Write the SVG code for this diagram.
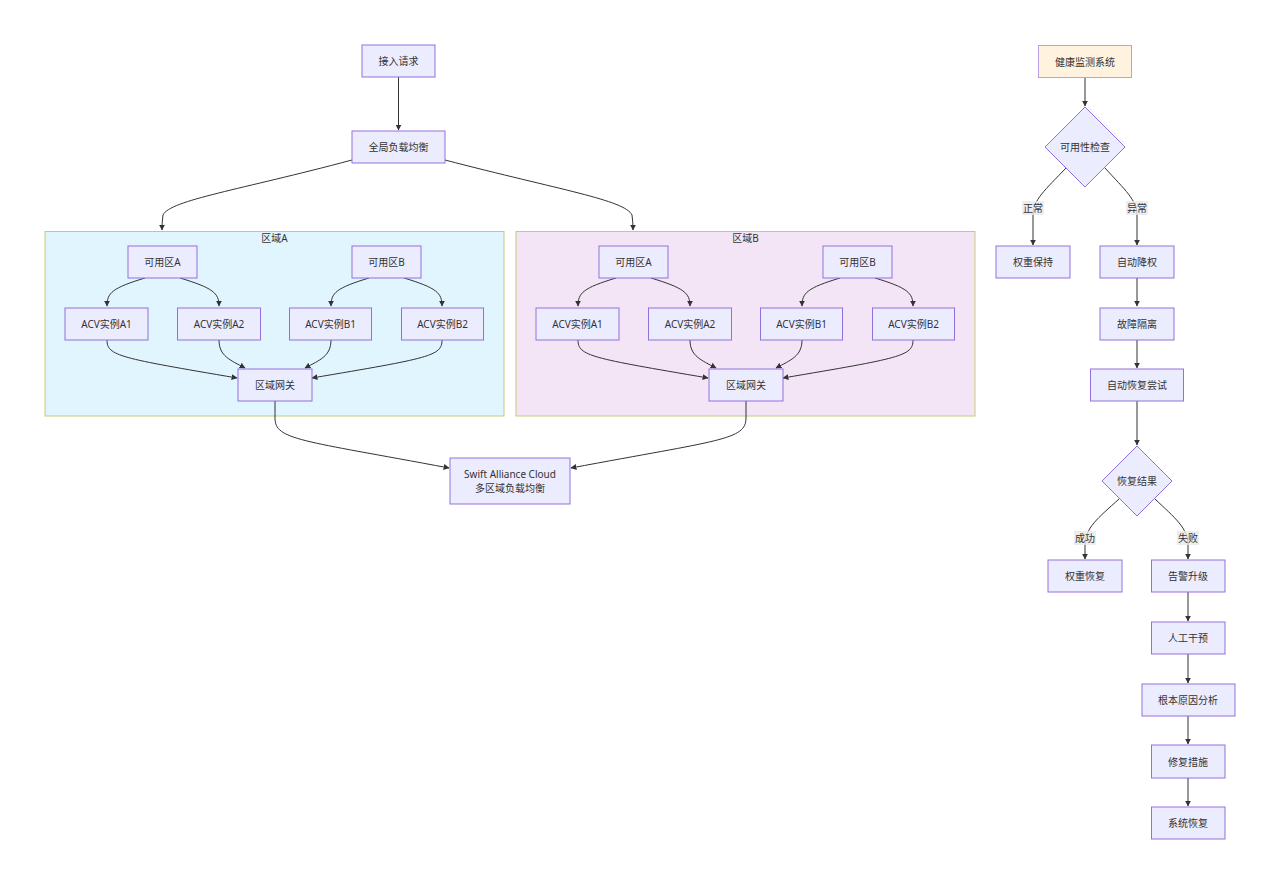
<svg xmlns="http://www.w3.org/2000/svg" width="1280" height="884" viewBox="0 0 1280 884">
<style>
text{font-family:"Noto Sans","Noto Sans CJK SC",sans-serif;font-size:10px;fill:#333;text-anchor:middle;dominant-baseline:central}
.n{fill:#ECECFF;stroke:#9370DB;stroke-width:1}
.e{fill:none;stroke:#333;stroke-width:1;marker-end:url(#a)}
.lb{fill:#e8e8e8;opacity:0.8}
</style>
<defs>
<marker id="a" viewBox="0 0 10 10" refX="9" refY="5" markerWidth="6" markerHeight="6" orient="auto-start-reverse" markerUnits="userSpaceOnUse">
<path d="M0,0L10,5L0,10z" fill="#333"/>
</marker>
</defs>
<rect width="1280" height="884" fill="#fff"/>
<g id="regionA">
<rect x="45" y="231.5" width="459" height="184.5" fill="#E1F5FE" stroke="#C8C87A" stroke-width="1"/>
<text x="274.5" y="238">区域A</text>
</g>
<g id="regionB">
<rect x="516" y="231.5" width="459" height="184.5" fill="#F3E5F5" stroke="#C8C87A" stroke-width="1"/>
<text x="745.5" y="238">区域B</text>
</g>
<g id="connectors">
<path class="e" d="M398.5,77 L398.5,130"/>
<path class="e" d="M352,160 C240,190 170,200 163,215 Q162,222 162,230"/>
<path class="e" d="M445,160 C560,190 625,200 632,215 Q633,222 633,230"/>
<path class="e" d="M145,278 C112,288 107,293 107,306"/>
<path class="e" d="M180,278 C213,288 219,293 219,306"/>
<path class="e" d="M369,278 C336,288 331,293 331,306"/>
<path class="e" d="M404,278 C437,288 442,293 442,306"/>
<path class="e" d="M107,340 C107,356 120,358 237,378"/>
<path class="e" d="M219,340 C219,356 230,360 245,368"/>
<path class="e" d="M331,340 C331,356 320,360 305,368"/>
<path class="e" d="M442,340 C442,356 430,358 312,378"/>
<path class="e" d="M616,278 C583,288 578,293 578,306"/>
<path class="e" d="M651,278 C684,288 690,293 690,306"/>
<path class="e" d="M840,278 C807,288 802,293 802,306"/>
<path class="e" d="M875,278 C908,288 913,293 913,306"/>
<path class="e" d="M578,340 C578,356 591,358 708,378"/>
<path class="e" d="M690,340 C690,356 701,360 716,368"/>
<path class="e" d="M802,340 C802,356 791,360 776,368"/>
<path class="e" d="M913,340 C913,356 901,358 783,378"/>
<path class="e" d="M275,401 L275,418 C275,440 300,440 449,468"/>
<path class="e" d="M746,401 L746,418 C746,440 720,440 571,468"/>
<path class="e" d="M1085,77 L1085,106"/>
<path class="e" d="M1066,168 C1045,190 1033,200 1033,215 L1033,245"/>
<path class="e" d="M1105,168 C1125,190 1137,200 1137,215 L1137,245"/>
<path class="e" d="M1137,278 L1137,306"/>
<path class="e" d="M1137,340 L1137,368"/>
<path class="e" d="M1137,401 L1137,445"/>
<path class="e" d="M1119,499 C1098,518 1085,528 1085,545 L1085,559"/>
<path class="e" d="M1155,499 C1175,518 1188,528 1188,545 L1188,559"/>
<path class="e" d="M1188,592 L1188,621"/>
<path class="e" d="M1188,654 L1188,683"/>
<path class="e" d="M1188,716 L1188,744"/>
<path class="e" d="M1188,778 L1188,806"/>
<rect class="lb" x="1022" y="201" width="22" height="14"/><text x="1033" y="208">正常</text>
<rect class="lb" x="1126" y="201" width="22" height="14"/><text x="1137" y="208">异常</text>
<rect class="lb" x="1074" y="531" width="22" height="14"/><text x="1085" y="538">成功</text>
<rect class="lb" x="1177" y="531" width="22" height="14"/><text x="1188" y="538">失败</text>
</g>
<g id="n_req"><rect class="n" x="362" y="45" width="73" height="32"/><text x="398.5" y="61">接入请求</text></g>
<g id="n_glb"><rect class="n" x="352" y="131" width="93" height="32"/><text x="398.5" y="147">全局负载均衡</text></g>
<g id="A_zoneA"><rect class="n" x="128" y="246" width="69" height="32"/><text x="162.5" y="262">可用区A</text></g>
<g id="A_zoneB"><rect class="n" x="352" y="246" width="69" height="32"/><text x="386.5" y="262">可用区B</text></g>
<g id="A_a1"><rect class="n" x="65" y="308" width="83" height="32"/><text x="106.5" y="324">ACV实例A1</text></g>
<g id="A_a2"><rect class="n" x="177.5" y="308" width="83" height="32"/><text x="219" y="324">ACV实例A2</text></g>
<g id="A_b1"><rect class="n" x="289.5" y="308" width="82" height="32"/><text x="330.5" y="324">ACV实例B1</text></g>
<g id="A_b2"><rect class="n" x="401.5" y="308" width="82" height="32"/><text x="442.5" y="324">ACV实例B2</text></g>
<g id="A_gw"><rect class="n" x="238" y="369" width="74" height="32"/><text x="275" y="385">区域网关</text></g>
<g id="B_zoneA"><rect class="n" x="599" y="246" width="69" height="32"/><text x="633.5" y="262">可用区A</text></g>
<g id="B_zoneB"><rect class="n" x="823" y="246" width="69" height="32"/><text x="857.5" y="262">可用区B</text></g>
<g id="B_a1"><rect class="n" x="536" y="308" width="83" height="32"/><text x="577.5" y="324">ACV实例A1</text></g>
<g id="B_a2"><rect class="n" x="648.5" y="308" width="83" height="32"/><text x="690" y="324">ACV实例A2</text></g>
<g id="B_b1"><rect class="n" x="760.5" y="308" width="82" height="32"/><text x="801.5" y="324">ACV实例B1</text></g>
<g id="B_b2"><rect class="n" x="872.5" y="308" width="82" height="32"/><text x="913.5" y="324">ACV实例B2</text></g>
<g id="B_gw"><rect class="n" x="709" y="369" width="74" height="32"/><text x="746" y="385">区域网关</text></g>
<g id="n_swift"><rect class="n" x="450" y="458" width="120" height="46"/><text x="510" y="474">Swift Alliance Cloud</text><text x="510" y="488">多区域负载均衡</text></g>
<g id="n_health"><rect x="1038.5" y="45.5" width="93" height="32" fill="#FFF3E0" stroke="#B9A0E0" stroke-width="1"/><text x="1085" y="61.5">健康监测系统</text></g>
<g id="n_check"><polygon class="n" points="1085,107 1125,147 1085,187 1045,147"/><text x="1085" y="147">可用性检查</text></g>
<g id="n_keep"><rect class="n" x="996" y="246" width="74" height="32"/><text x="1033" y="262">权重保持</text></g>
<g id="n_down"><rect class="n" x="1100" y="246" width="74" height="32"/><text x="1137" y="262">自动降权</text></g>
<g id="n_iso"><rect class="n" x="1100" y="308" width="74" height="32"/><text x="1137" y="324">故障隔离</text></g>
<g id="n_try"><rect class="n" x="1090.5" y="369" width="93" height="32"/><text x="1137" y="385">自动恢复尝试</text></g>
<g id="n_res"><polygon class="n" points="1137,446 1172,481 1137,516 1102,481"/><text x="1137" y="481">恢复结果</text></g>
<g id="n_rec"><rect class="n" x="1048" y="560" width="74" height="32"/><text x="1085" y="576">权重恢复</text></g>
<g id="n_alarm"><rect class="n" x="1151.5" y="560" width="73.5" height="32"/><text x="1188" y="576">告警升级</text></g>
<g id="n_man"><rect class="n" x="1151.5" y="622" width="73.5" height="32"/><text x="1188" y="638">人工干预</text></g>
<g id="n_rca"><rect class="n" x="1142" y="684" width="93" height="32"/><text x="1188" y="700">根本原因分析</text></g>
<g id="n_fix"><rect class="n" x="1151.5" y="745" width="73.5" height="33"/><text x="1188" y="761.5">修复措施</text></g>
<g id="n_sys"><rect class="n" x="1151.5" y="807" width="73.5" height="32"/><text x="1188" y="823">系统恢复</text></g>
</svg>
